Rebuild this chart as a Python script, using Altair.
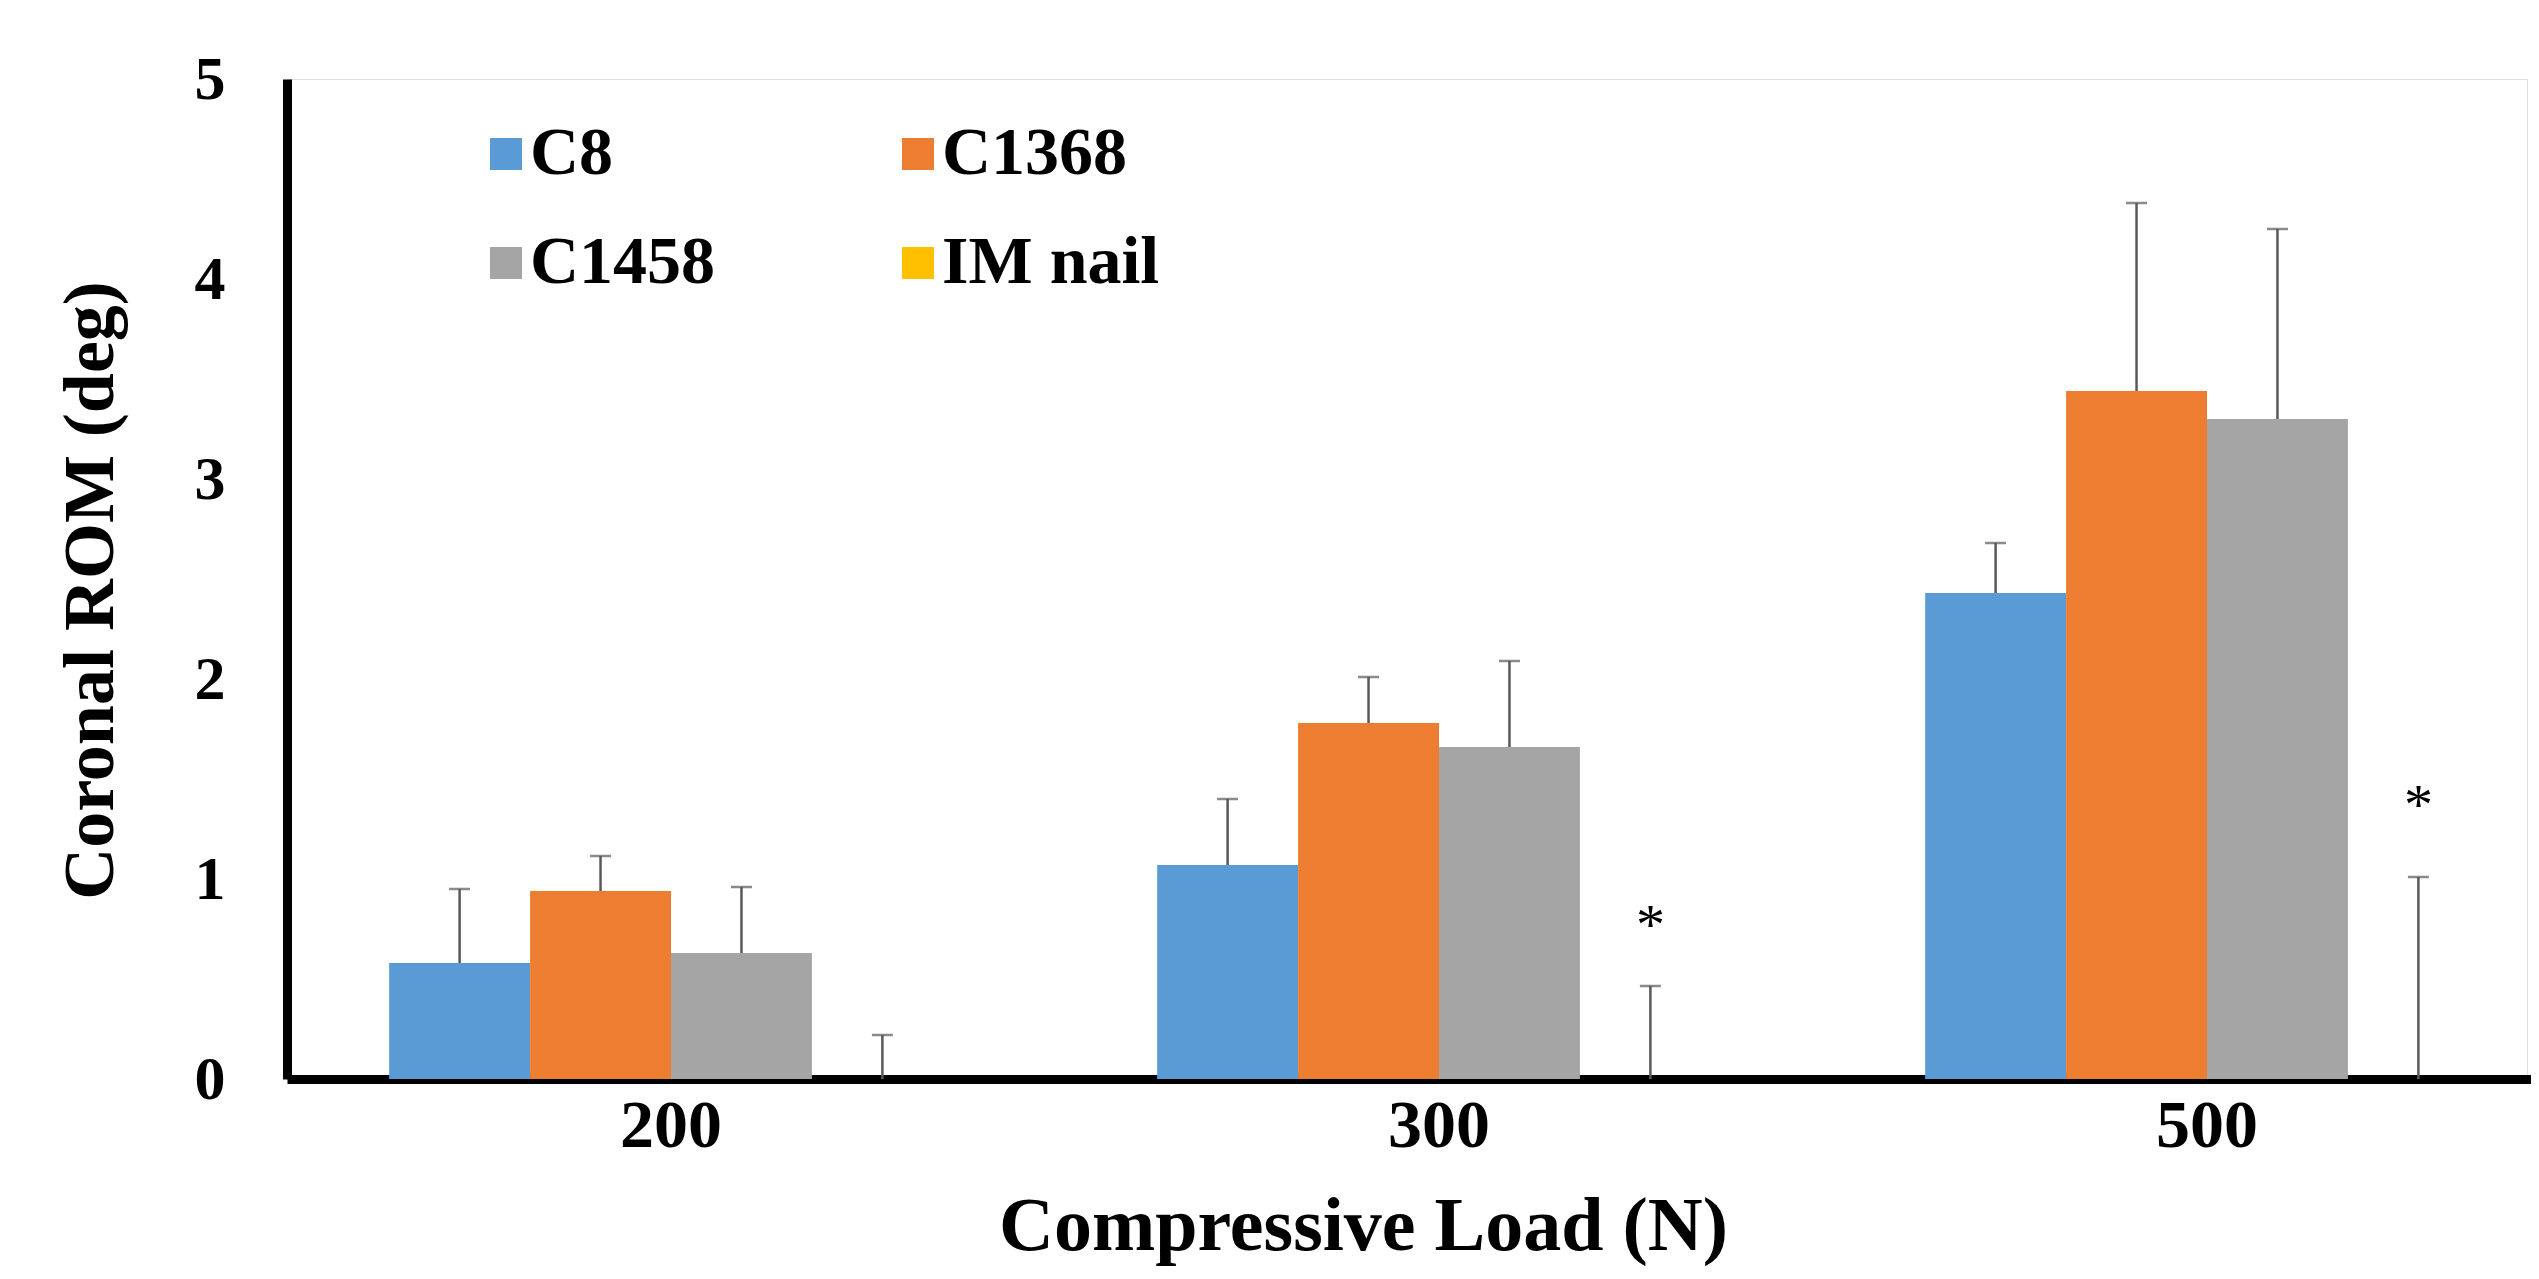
import altair as alt
import pandas as pd

loads = ["200", "300", "500"]
series = ["C8", "C1368", "C1458", "IM nail"]
colors = ["#5B9BD5", "#ED7D31", "#A5A5A5", "#FFC000"]

c8 = [0.58, 1.07, 2.43]
c1368 = [0.94, 1.78, 3.44]
c1458 = [0.63, 1.66, 3.30]
im_nail = [0.0, 0.0, 0.0]

c8_err = [0.95, 1.40, 2.68]
c1368_err = [1.115, 2.01, 4.38]
c1458_err = [0.96, 2.09, 4.25]
im_nail_err = [0.22, 0.465, 1.01]

star_loads = ["300", "500"]
star_y = [0.81, 1.41]

means = [c8, c1368, c1458, im_nail]
errs = [c8_err, c1368_err, c1458_err, im_nail_err]

rows = []
for s, m, e in zip(series, means, errs):
    for i, l in enumerate(loads):
        rows.append({"load": l, "series": s, "value": m[i], "err": e[i]})
df = pd.DataFrame(rows)
stars = pd.DataFrame({"load": star_loads, "series": ["IM nail"] * 2, "y": star_y})

FONT = "Liberation Serif"

x_enc = alt.X(
    "load:N",
    sort=loads,
    scale=alt.Scale(range=[0, 2304], paddingInner=0.266, paddingOuter=0.133),
    axis=alt.Axis(
        title="Compressive Load (N)",
        labelAngle=0,
        ticks=False,
        domainColor="black",
        domainWidth=9,
        labelFont=FONT,
        labelFontSize=68,
        labelFontWeight="bold",
        labelColor="black",
        labelPadding=13,
        titleFont=FONT,
        titleFontSize=76,
        titleFontWeight="bold",
        titleColor="black",
        titleX=1076,
        titleY=170,
        titleBaseline="alphabetic",
        titleAnchor="start",
        titleAlign="center",
    ),
)
xo_enc = alt.XOffset("series:N", sort=series, scale=alt.Scale(domain=series, paddingInner=0, paddingOuter=0))
y_scale = alt.Scale(domain=[0, 5], nice=False)
y_axis = alt.Axis(
    title="Coronal ROM (deg)",
    values=[0, 1, 2, 3, 4, 5],
    format="d",
    grid=False,
    ticks=False,
    domainColor="black",
    domainWidth=9,
    labelFont=FONT,
    labelFontSize=62,
    labelFontWeight="bold",
    labelColor="black",
    labelPadding=62,
    titleFont=FONT,
    titleFontSize=72,
    titleFontWeight="bold",
    titleColor="black",
    titleX=-175,
    titleY=511,
    titleAngle=270,
    titleBaseline="alphabetic",
    titleAlign="center",
    titleAnchor="start",
)

bars = alt.Chart(df).mark_bar(strokeWidth=0).encode(
    x=x_enc,
    xOffset=xo_enc,
    y=alt.Y("value:Q", scale=y_scale, axis=y_axis),
    color=alt.Color(
        "series:N",
        sort=series,
        scale=alt.Scale(domain=series, range=colors),
        legend=alt.Legend(
            orient="none",
            direction="horizontal",
            legendX=185,
            legendY=41,
            columns=2,
            columnPadding=168,
            rowPadding=41,
            symbolType="square",
            symbolSize=1024,
            symbolStrokeWidth=0,
            labelFont=FONT,
            labelFontSize=68,
            labelFontWeight="bold",
            labelColor="black",
            labelOffset={"expr": "-10"},
            labelLimit=600,
            title=None,
            padding=0,
        ),
    ),
)

rules = alt.Chart(df).mark_rule(color="#595959").encode(
    x=alt.X("load:N", sort=loads),
    xOffset=alt.XOffset("series:N", sort=series),
    y=alt.Y("value:Q"),
    y2=alt.Y2("err:Q"),
    strokeWidth=alt.StrokeWidth("series:N", scale=alt.Scale(domain=series, range=[2.5, 2.5, 2.5, 1.6]), legend=None),
)

caps = alt.Chart(df).mark_tick(color="#595959", size=21, thickness=2.5).encode(
    x=alt.X("load:N", sort=loads),
    xOffset=alt.XOffset("series:N", sort=series),
    y=alt.Y("err:Q"),
)

star_marks = alt.Chart(stars).mark_text(
    text="*", font=FONT, fontSize=58, color="black", baseline="alphabetic", dy=27
).encode(
    x=alt.X("load:N", sort=loads),
    xOffset=alt.XOffset("series:N", sort=series),
    y=alt.Y("y:Q"),
)

chart = (
    alt.layer(bars, rules, caps, star_marks)
    .properties(
        width=2240,
        height=1000,
        autosize=alt.AutoSizeParams(type="none"),
        padding={"left": 279, "top": 71, "right": 4, "bottom": 192},
    )
    .configure_view(stroke=None)
    .configure(background="white")
)

chart.save("out.html", embed_options={"renderer": "svg", "actions": False})
